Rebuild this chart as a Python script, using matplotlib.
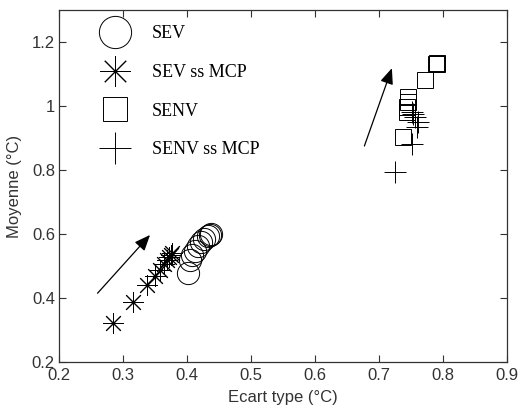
import matplotlib
matplotlib.use("Agg")
import matplotlib.pyplot as plt

# ---- data ----
sev_x = [0.402, 0.405, 0.408, 0.412, 0.417, 0.422, 0.427, 0.432, 0.436, 0.438]
sev_y = [0.478, 0.520, 0.535, 0.548, 0.562, 0.575, 0.585, 0.593, 0.598, 0.600]

sev_mcp_x = [0.284, 0.315, 0.338, 0.350, 0.358, 0.364, 0.368, 0.371, 0.374, 0.377]
sev_mcp_y = [0.321, 0.388, 0.440, 0.469, 0.488, 0.505, 0.518, 0.528, 0.535, 0.540]

senv_x = [0.738, 0.743, 0.744, 0.745, 0.745, 0.772, 0.789, 0.790, 0.791]
senv_y = [0.904, 0.982, 0.998, 1.013, 1.029, 1.081, 1.130, 1.132, 1.134]

senv_mcp_x = [0.725, 0.751, 0.760, 0.761, 0.756, 0.753, 0.752]
senv_mcp_y = [0.795, 0.880, 0.935, 0.951, 0.965, 0.975, 0.982]

arrow1_start = (0.260, 0.415)
arrow1_end = (0.342, 0.597)
arrow2_start = (0.677, 0.875)
arrow2_end = (0.720, 1.118)

labels = ["SEV", "SEV ss MCP", "SENV", "SENV ss MCP"]
xticks = [0.2, 0.3, 0.4, 0.5, 0.6, 0.7, 0.8, 0.9]
yticks = [0.2, 0.4, 0.6, 0.8, 1.0, 1.2]
ytick_labels = ["0.2", "0.4", "0.6", "0.8", "1", "1.2"]

# ---- figure ----
fig = plt.figure(figsize=(5.19, 4.08), dpi=100)
ax = fig.add_axes([0.114, 0.1127, 0.863, 0.8628])

axis_col = "#333333"
mk = dict(linestyle="none", color="black", markerfacecolor="none", markeredgewidth=0.7)

h1, = ax.plot(sev_x, sev_y, marker="o", markersize=16, **mk)
h2, = ax.plot(sev_mcp_x, sev_mcp_y, marker=(8, 2, 0), markersize=15, **mk)
ax.plot(sev_mcp_x, sev_mcp_y, linestyle="none", marker=".", markersize=3, color="black")
h3, = ax.plot(senv_x, senv_y, marker="s", markersize=12, **mk)
h4, = ax.plot(senv_mcp_x, senv_mcp_y, marker="+", markersize=16, **mk)

for s, e in [(arrow1_start, arrow1_end), (arrow2_start, arrow2_end)]:
    ax.annotate("", xy=e, xytext=s,
                arrowprops=dict(arrowstyle="-|>,head_length=0.6,head_width=0.25",
                                color="black", lw=0.9,
                                mutation_scale=16, shrinkA=0, shrinkB=0))

ax.set_xlim(0.2, 0.9)
ax.set_ylim(0.2, 1.3)
ax.set_xticks(xticks)
ax.set_xticklabels([f"{v:g}" for v in xticks])
ax.set_yticks(yticks)
ax.set_yticklabels(ytick_labels)
ax.tick_params(direction="in", top=True, right=True, length=5, width=0.8,
               colors=axis_col, labelsize=12, pad=3)
ax.tick_params(axis="x", pad=4)
for lab in ax.get_xticklabels() + ax.get_yticklabels():
    lab.set_family("Liberation Sans")
for sp in ax.spines.values():
    sp.set_color(axis_col)
    sp.set_linewidth(0.9)

ax.set_xlabel("Ecart type (°C)", fontsize=12, family="Liberation Sans", color=axis_col, labelpad=5)
ax.set_ylabel("Moyenne (°C)", fontsize=12, family="Liberation Sans", color=axis_col, labelpad=7)

leg = ax.legend([h1, h2, h3, h4], labels, loc="upper left",
                bbox_to_anchor=(0.187, 0.938), bbox_transform=fig.transFigure,
                frameon=False, numpoints=1, markerscale=1.45, handlelength=2.0,
                handletextpad=1.05, labelspacing=1.2, borderpad=0, borderaxespad=0,
                prop={"family": "Liberation Serif", "size": 13})

fig.savefig("out.png", dpi=100)
